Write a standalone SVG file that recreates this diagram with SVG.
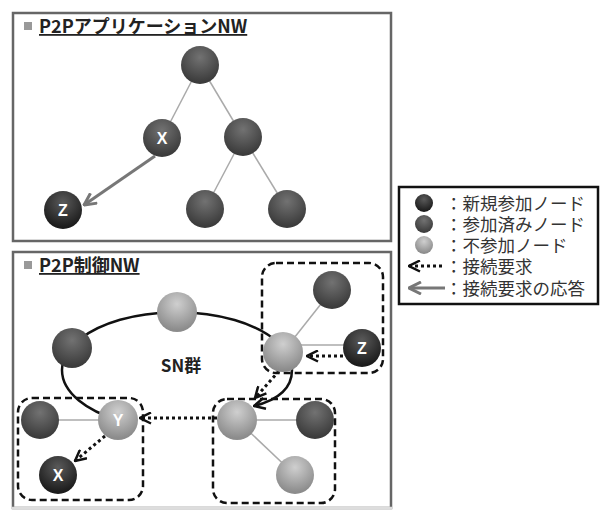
<svg xmlns="http://www.w3.org/2000/svg" width="601" height="510" viewBox="0 0 601 510">
<defs>
<radialGradient id="gBlack" cx="50%" cy="30%" r="65%"><stop offset="0" stop-color="#5a5a5a"/><stop offset="1" stop-color="#1c1c1c"/></radialGradient>
<radialGradient id="gDark" cx="50%" cy="30%" r="65%"><stop offset="0" stop-color="#727272"/><stop offset="1" stop-color="#3c3c3c"/></radialGradient>
<radialGradient id="gLight" cx="50%" cy="30%" r="65%"><stop offset="0" stop-color="#cfcfcf"/><stop offset="1" stop-color="#8c8c8c"/></radialGradient>
<marker id="chev" markerWidth="13" markerHeight="13" refX="12" refY="6.5" orient="auto" markerUnits="userSpaceOnUse" viewBox="0 0 13 13"><polyline points="1,1 12,6.5 1,12" fill="none" stroke="#111" stroke-width="2.5"/></marker>
<marker id="chevG" markerWidth="14" markerHeight="14" refX="13" refY="7" orient="auto" markerUnits="userSpaceOnUse" viewBox="0 0 14 14"><polyline points="1,1 13,7 1,13" fill="none" stroke="#777" stroke-width="3"/></marker>
</defs>
<style>
.panel{fill:#fff;stroke:#666;stroke-width:2.5}
.title{font-family:"Noto Sans CJK JP","Liberation Sans",sans-serif;font-weight:bold;font-size:18px;fill:#222;text-decoration:underline}
.bullet{fill:#999}
.thin{stroke:#aaa;stroke-width:1.5;fill:none}
.ring{stroke:#111;stroke-width:2.5;fill:none}
.dot{stroke:#111;stroke-width:3;stroke-dasharray:3 3;fill:none}
.grp{fill:none;stroke:#111;stroke-width:2.5;stroke-dasharray:7 4}
.lbl{font-family:"Liberation Sans",sans-serif;font-weight:bold;font-size:16px;fill:#fff;text-anchor:middle}
.leg{font-family:"Noto Sans CJK JP",sans-serif;font-size:17.5px;fill:#333}
.b{fill:url(#gBlack)}.d{fill:url(#gDark)}.l{fill:url(#gLight)}
</style>
<rect width="601" height="510" fill="#fff"/>

<!-- top panel -->
<g id="panel-app">
<rect class="panel" x="13" y="13" width="378" height="228"/>
<rect class="bullet" x="24" y="22" width="8" height="8"/>
<text class="title" x="39" y="33">P2PアプリケーションNW</text>
</g>
<g id="app-connectors">
<line class="thin" x1="200" y1="65" x2="162" y2="138"/>
<line class="thin" x1="200" y1="65" x2="243" y2="137"/>
<line class="thin" x1="243" y1="137" x2="205" y2="209"/>
<line class="thin" x1="243" y1="137" x2="287" y2="209"/>
<line x1="155" y1="156" x2="84" y2="205" stroke="#777" stroke-width="3" marker-end="url(#chevG)"/>
</g>
<g id="app-root"><circle class="d" cx="200" cy="65" r="19"/></g>
<g id="app-x"><circle class="d" cx="162" cy="138" r="19"/><text class="lbl" x="162" y="144">X</text></g>
<g id="app-m"><circle class="d" cx="243" cy="137" r="19"/></g>
<g id="app-z"><circle class="b" cx="63" cy="210" r="19"/><text class="lbl" x="63" y="216">Z</text></g>
<g id="app-b1"><circle class="d" cx="205" cy="209" r="19"/></g>
<g id="app-b2"><circle class="d" cx="287" cy="209" r="19"/></g>

<!-- bottom panel -->
<g id="panel-ctrl">
<rect class="panel" x="13" y="252" width="378" height="256"/>
<line x1="12" y1="508" x2="392" y2="508" stroke="#ddd" stroke-width="2.5"/>
<rect class="bullet" x="24" y="261" width="8" height="8"/>
<text class="title" x="39" y="272">P2P制御NW</text>
<text x="181" y="372" font-family="Noto Sans CJK JP,sans-serif" font-weight="bold" font-size="17" fill="#222" text-anchor="middle">SN群</text>
</g>
<g id="groups">
<rect class="grp" x="262" y="263" width="121" height="110" rx="14"/>
<rect class="grp" x="18" y="398" width="125" height="102" rx="14"/>
<rect class="grp" x="213" y="399" width="122" height="104" rx="14"/>
</g>
<g id="ctrl-connectors">
<path class="ring" d="M118,420 A115,58 0 1 1 292,370 C292,388 278,400 254,406" marker-end="url(#chev)"/>
<line class="thin" x1="283" y1="352" x2="332" y2="290"/>
<line class="thin" x1="283" y1="345" x2="362" y2="345"/>
<line class="thin" x1="40" y1="420" x2="118" y2="420"/>
<line class="thin" x1="237" y1="420" x2="315" y2="420"/>
<line class="thin" x1="237" y1="420" x2="295" y2="475"/>
<line class="dot" x1="343" y1="356" x2="307" y2="356" marker-end="url(#chev)"/>
<line class="dot" x1="279" y1="371" x2="255" y2="398" marker-end="url(#chev)"/>
<line class="dot" x1="217" y1="418" x2="140" y2="418" marker-end="url(#chev)"/>
<line class="dot" x1="105" y1="436" x2="75" y2="461" marker-end="url(#chev)"/>
</g>
<g id="sn-top"><circle class="l" cx="177" cy="312" r="20"/></g>
<g id="sn-left"><circle class="d" cx="72" cy="348" r="20"/></g>
<g id="sn-right"><circle class="l" cx="283" cy="352" r="20"/></g>
<g id="tr-dark"><circle class="d" cx="332" cy="290" r="19"/></g>
<g id="ctrl-z"><circle class="b" cx="362" cy="348" r="19"/><text class="lbl" x="362" y="354">Z</text></g>
<g id="ctrl-y"><circle class="l" cx="118" cy="420" r="20"/><text class="lbl" x="118" y="426">Y</text></g>
<g id="bl-dark"><circle class="d" cx="40" cy="420" r="19"/></g>
<g id="ctrl-x"><circle class="b" cx="58" cy="475" r="19"/><text class="lbl" x="58" y="481">X</text></g>
<g id="br-light"><circle class="l" cx="237" cy="420" r="20"/></g>
<g id="br-dark"><circle class="d" cx="315" cy="420" r="19"/></g>
<g id="br-light2"><circle class="l" cx="295" cy="475" r="19"/></g>

<!-- legend -->
<g id="legend">
<rect x="399" y="187" width="199" height="117" fill="#fff" stroke="#111" stroke-width="2.5"/>
<circle class="b" cx="424" cy="203" r="9"/>
<circle class="d" cx="424" cy="224" r="9"/>
<circle class="l" cx="424" cy="245" r="9"/>
<line class="dot" x1="442" y1="266" x2="409" y2="266" stroke-width="2.5" marker-end="url(#chev)"/>
<line x1="445" y1="288" x2="409" y2="288" stroke="#777" stroke-width="3" marker-end="url(#chevG)"/>
<text class="leg" x="445" y="210">：新規参加ノード</text>
<text class="leg" x="445" y="231">：参加済みノード</text>
<text class="leg" x="445" y="252">：不参加ノード</text>
<text class="leg" x="445" y="273">：接続要求</text>
<text class="leg" x="445" y="295">：接続要求の応答</text>
</g>
</svg>
